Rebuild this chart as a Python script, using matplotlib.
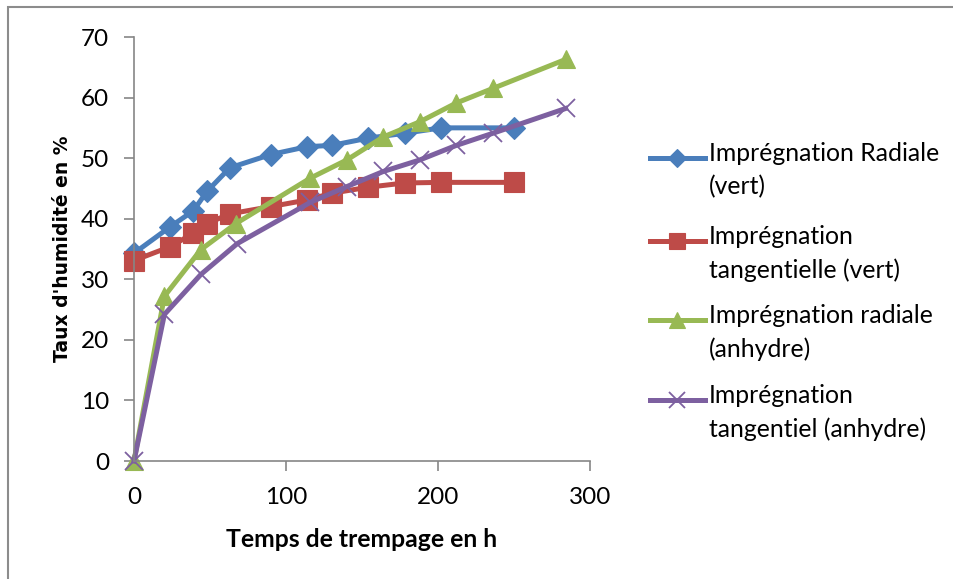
import matplotlib.pyplot as plt
from matplotlib.lines import Line2D
from matplotlib.patches import Rectangle

plt.rcParams['font.family'] = ['Lato', 'DejaVu Sans']

# temps (h) et taux d'humidite (%)
t_rad_vert = [0, 24, 39, 48, 63, 90, 114, 130, 154, 178, 202, 250]
h_rad_vert = [34.3, 38.7, 41.3, 44.5, 48.4, 50.6, 51.9, 52.1, 53.3, 54.1, 55.0, 55.0]

t_tan_vert = [0, 24, 39, 48, 63, 90, 114, 130, 154, 178, 202, 250]
h_tan_vert = [33.1, 35.4, 37.6, 39.2, 40.8, 42.0, 43.1, 44.2, 45.2, 45.9, 46.0, 46.0]

t_rad_anh = [0, 20, 44, 67, 116, 140, 164, 188, 212, 236, 284]
h_rad_anh = [0, 27.2, 34.9, 39.2, 46.7, 49.7, 53.5, 56.0, 59.1, 61.5, 66.3]

t_tan_anh = [0, 20, 44, 68, 116, 140, 164, 188, 212, 236, 284]
h_tan_anh = [0, 24.2, 30.8, 35.9, 42.7, 45.3, 47.8, 49.7, 52.1, 54.1, 58.2]

labels = ['Imprégnation Radiale\n(vert)',
          'Imprégnation\ntangentielle (vert)',
          'Imprégnation radiale\n(anhydre)',
          'Imprégnation\ntangentiel (anhydre)']
colors = ['#4A7EBB', '#BE4B48', '#98B954', '#7D60A0']
markers = ['D', 's', '^', 'x']
msizes = [11, 14, 13, 13]

W, H = 954, 579
fig = plt.figure(figsize=(W / 100, H / 100), dpi=100)
ax = fig.add_axes([134 / W, 1 - 461 / H, 456 / W, 424 / H])

series = [(t_rad_vert, h_rad_vert), (t_tan_vert, h_tan_vert),
          (t_rad_anh, h_rad_anh), (t_tan_anh, h_tan_anh)]
for (t, h), c, m, ms in zip(series, colors, markers, msizes):
    ax.plot(t, h, color=c, lw=3.6, marker=m, markersize=ms,
            markeredgewidth=1.3 if m == 'x' else 0.8,
            markeredgecolor=c, clip_on=False)

ax.set_xlim(0, 300)
ax.set_ylim(0, 70)
ax.set_xticks([0, 100, 200, 300])
ax.set_yticks(range(0, 71, 10))
for s in ['top', 'right']:
    ax.spines[s].set_visible(False)
for s in ['left', 'bottom']:
    ax.spines[s].set_color('#868686')
    ax.spines[s].set_linewidth(1.2)
ax.tick_params(direction='out', length=7, width=1.2, color='#868686',
               labelsize=17.5, pad=11)
ax.tick_params(axis='x', pad=12)

ax.set_xlabel('Temps de trempage en h', fontsize=17.8, fontweight='bold', labelpad=14)
ax.set_ylabel("Taux d'humidité en %", fontsize=13.5, fontweight='bold', labelpad=6,
              family='DejaVu Sans')

# legende
rows = [158, 241, 320, 400]
for y, lab, c, m, ms in zip(rows, labels, colors, markers, msizes):
    yf = 1 - y / H
    fig.add_artist(Line2D([650 / W, 677.5 / W, 705 / W], [yf, yf, yf],
                          transform=fig.transFigure, color=c, lw=3.6,
                          marker=m, markersize=ms * 0.85, markevery=[1],
                          markeredgewidth=1.3 if m == 'x' else 0.8,
                          markeredgecolor=c))
    fig.text(709 / W, 1 - (y - 16) / H, lab, fontsize=17.8, va='top',
             ha='left', linespacing=1.52)

# cadre
fig.add_artist(Rectangle((8 / W, -0.05), 1.2, 1.05 - 7 / H, transform=fig.transFigure,
                         fill=False, edgecolor='#8c8c8c', lw=1.5))

fig.savefig('out.png', dpi=100)
